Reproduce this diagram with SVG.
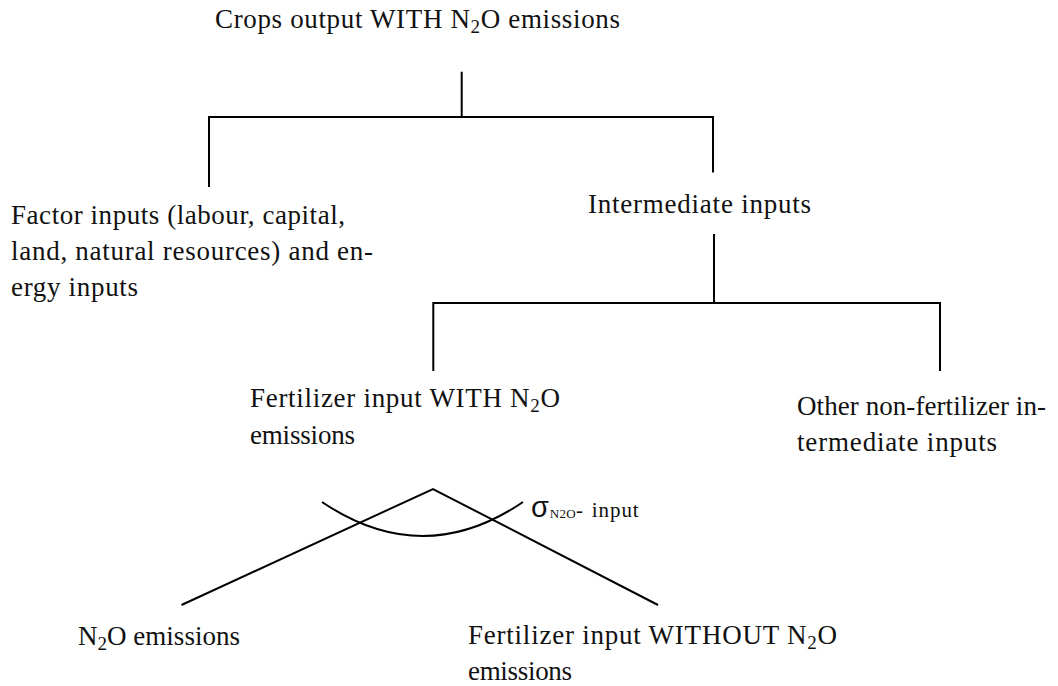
<svg xmlns="http://www.w3.org/2000/svg" width="1058" height="686" viewBox="0 0 1058 686">
<style>
.t{font-family:"Liberation Serif","Times New Roman",serif;font-size:27px;fill:#111;}
.sub{font-size:19px;}
.ln{stroke:#000;stroke-width:2;fill:none;stroke-linecap:butt;}
.sig{font-family:"Liberation Sans","DejaVu Sans",sans-serif;font-size:29px;fill:#111;}
</style>
<rect width="1058" height="686" fill="#fff"/>
<g id="connectors">
<path class="ln" d="M461.7,71.7 V117 M209,117 H713 M209,116 V187 M713,116 V172.5"/>
<path class="ln" d="M714,234 V303 M433.3,303 H940 M433.3,302 V371 M940,302 V371"/>
<path class="ln" d="M181.5,605 L433,489 L658,605" stroke-linejoin="miter"/>
<path class="ln" d="M322,502 Q423,570 523,502"/>
</g>
<g id="node-crops">
<text class="t" x="215" y="28" textLength="405" lengthAdjust="spacing">Crops output WITH N<tspan class="sub" dy="5">2</tspan><tspan dy="-5">O emissions</tspan></text>
</g>
<g id="node-factor">
<text class="t" x="11" y="224" textLength="334" lengthAdjust="spacing">Factor inputs (labour, capital,</text>
<text class="t" x="11" y="260" textLength="362" lengthAdjust="spacing">land, natural resources) and en-</text>
<text class="t" x="11" y="296" textLength="127" lengthAdjust="spacing">ergy inputs</text>
</g>
<g id="node-intermediate">
<text class="t" x="588" y="213" textLength="223" lengthAdjust="spacing">Intermediate inputs</text>
</g>
<g id="node-fertilizer-with">
<text class="t" x="250" y="407" textLength="310" lengthAdjust="spacing">Fertilizer input WITH N<tspan class="sub" dy="5">2</tspan><tspan dy="-5">O</tspan></text>
<text class="t" x="250" y="444" textLength="105" lengthAdjust="spacing">emissions</text>
</g>
<g id="node-other">
<text class="t" x="797" y="415" textLength="249" lengthAdjust="spacing">Other non-fertilizer in-</text>
<text class="t" x="797" y="451" textLength="200" lengthAdjust="spacing">termediate inputs</text>
</g>
<g id="node-n2o">
<text class="t" x="78" y="645" textLength="162" lengthAdjust="spacing">N<tspan class="sub" dy="5">2</tspan><tspan dy="-5">O emissions</tspan></text>
</g>
<g id="node-fertilizer-without">
<text class="t" x="468" y="644" textLength="369" lengthAdjust="spacing">Fertilizer input WITHOUT N<tspan class="sub" dy="5">2</tspan><tspan dy="-5">O</tspan></text>
<text class="t" x="468" y="680" textLength="104" lengthAdjust="spacing">emissions</text>
</g>
<g id="label-sigma">
<text class="sig" x="531" y="517">σ</text>
<text class="t" x="549.7" y="518" style="font-size:13px" textLength="26" lengthAdjust="spacing">N2O</text>
<text class="t" x="576" y="517" style="font-size:21px">-</text>
<text class="t" x="591.7" y="517" style="font-size:21px" textLength="47" lengthAdjust="spacing">input</text>
</g>
</svg>
